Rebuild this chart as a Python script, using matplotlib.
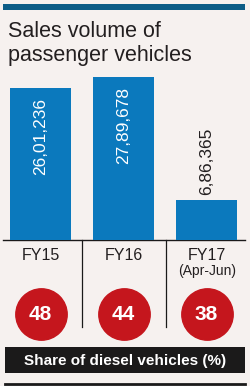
import numpy as np
import matplotlib
matplotlib.use("Agg")
import matplotlib.pyplot as plt

#-- DATI
anni    = ["FY15", "FY16", "FY17"]
sottot  = ["", "", "(Apr-Jun)"]
vendite = [2601236, 2789678, 686365]
etich   = ["26,01,236", "27,89,678", "6,86,365"]
diesel  = [48, 44, 38]

#-- COLORI
SFONDO = "#f6f1ef"
BLU    = "#0b79bd"
BLU_SC = "#0d5d87"
ROSSO  = "#c5161d"
NERO   = "#1b1a1a"

FONT = ["Liberation Sans", "DejaVu Sans"]
plt.rcParams["font.family"] = FONT

W, H = 250, 386
fig = plt.figure(figsize=(W/100, H/100), dpi=100, facecolor=SFONDO)

# asse di sfondo in pixel
bg = fig.add_axes([0, 0, 1, 1])
bg.set_xlim(0, W)
bg.set_ylim(H, 0)
bg.axis("off")
bg.add_patch(plt.Rectangle((3, 4), 242, 5.5, color=BLU_SC, lw=0))
bg.text(8, 37, "Sales volume of", fontsize=15.5, color="#231f20", va="baseline")
bg.text(8, 61, "passenger vehicles", fontsize=15.5, color="#231f20", va="baseline")
bg.plot([3, 245], [240, 240], color=NERO, lw=1)
for xv in (82, 165.5):
    bg.plot([xv, xv], [240, 327], color=NERO, lw=0.9)
bg.add_patch(plt.Rectangle((5, 347), 240, 26, color=NERO, lw=0))
bg.text(125, 360.5, "Share of diesel vehicles (%)", fontsize=11, color="white",
        ha="center", va="center", fontweight="bold")
bg.plot([5, 245], [384, 384], color=NERO, lw=2)

#-- BARRE
passo = 83
c0 = 40.5
xl = (-c0/passo, (W - c0)/passo)
base, cima = 240, 77
ax = fig.add_axes([0, (H - base)/H, 1, (base - cima)/H])
ax.set_xlim(*xl)
ax.set_ylim(0, max(vendite))
ax.axis("off")
x = np.arange(len(anni))
ax.bar(x, vendite, width=61/passo, color=BLU)
for i, v in enumerate(vendite):
    if v > 0.5*max(vendite):
        ax.annotate(etich[i], (i, v), xytext=(0, -7.5), textcoords="offset points",
                    rotation=90, ha="center", va="top", color="white", fontsize=12.5)
    else:
        ax.annotate(etich[i], (i, v), xytext=(0, 3.5), textcoords="offset points",
                    rotation=90, ha="center", va="bottom", color="#231f20", fontsize=12.5)

#-- PARTE BASSA
low = fig.add_axes([0, (H - 346)/H, 1, (346 - base)/H])
low.set_xlim(*xl)
low.set_ylim(346 - base, 0)
low.axis("off")
for i in range(len(anni)):
    low.text(i + 0.01, 15, anni[i], ha="center", va="center", fontsize=11.5, color="#231f20")
    if sottot[i]:
        low.text(i + 0.01, 31, sottot[i], ha="center", va="center", fontsize=10, color="#231f20")
low.scatter(x, [74]*len(x), s=37**2, color=ROSSO, zorder=3)
for i, d in enumerate(diesel):
    low.text(i, 74.5, str(d), ha="center", va="center", fontsize=15,
             fontweight="bold", color="white", zorder=4)

fig.savefig("out.png", dpi=100, facecolor=SFONDO)
